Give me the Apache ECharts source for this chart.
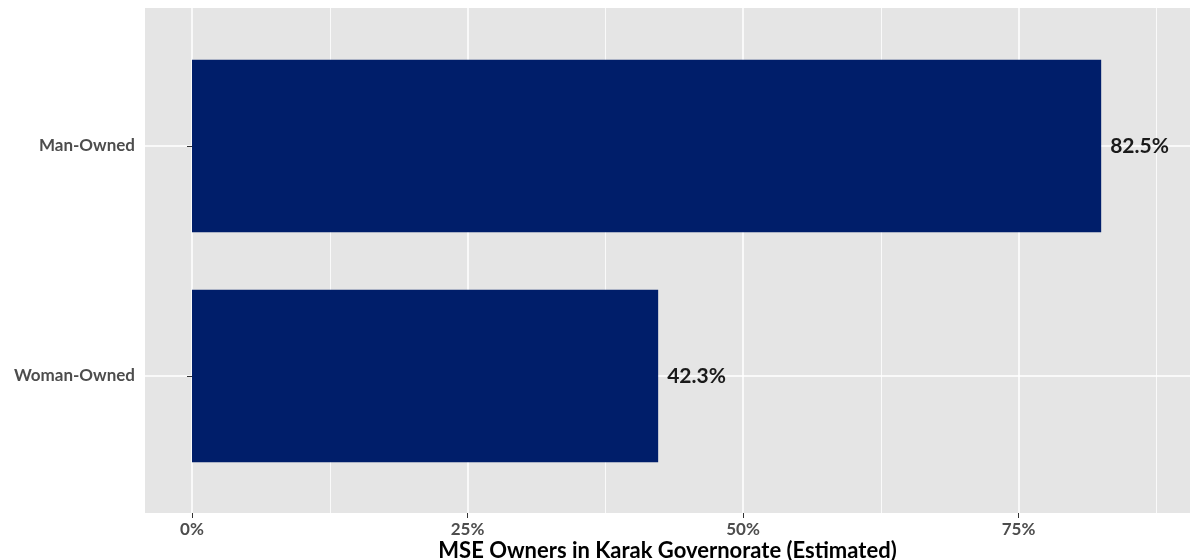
<!DOCTYPE html>
<html>
<head>
<meta charset="utf-8">
<script src="https://cdn.jsdelivr.net/npm/echarts@6/dist/echarts.min.js"></script>
<style>
html,body{margin:0;padding:0;background:#fff;}
#chart{width:1190px;height:560px;}
</style>
</head>
<body>
<div id="chart"></div>
<script>
const categories = ['Man-Owned', 'Woman-Owned'];
const shares = [82.5, 42.3];
const axisTitle = 'MSE Owners in Karak Governorate (Estimated)';
const xMin = 0, xMax = 100, xStep = 25;

const FONT = 'Lato';
const chart = echarts.init(document.getElementById('chart'), null, {renderer: 'canvas'});
chart.setOption({
  animation: false,
  backgroundColor: '#ffffff',
  grid: [
    {left: 145, right: 0, top: 8, bottom: 47, show: true, backgroundColor: '#E5E5E5', borderWidth: 0, outerBoundsMode: 'none', containLabel: false},
    {left: 192, width: 1102, top: 8, bottom: 47, outerBoundsMode: 'none', containLabel: false},
    {left: 145, right: 0, top: 146, bottom: 184, outerBoundsMode: 'none', containLabel: false}
  ],
  xAxis: [
    {
      gridIndex: 0, type: 'value', min: 0, max: 1,
      name: axisTitle, nameLocation: 'middle', nameGap: 27,
      nameTextStyle: {fontFamily: FONT, fontWeight: 'bold', fontSize: 22, color: '#000'},
      axisLine: {show: false}, axisTick: {show: false}, axisLabel: {show: false}, splitLine: {show: false}
    },
    {
      gridIndex: 1, type: 'value', min: xMin, max: xMax, interval: xStep,
      axisLine: {show: false},
      axisTick: {show: true, length: 5, lineStyle: {color: '#333333', width: 1}},
      axisLabel: {formatter: '{value}%', fontFamily: FONT, fontWeight: 'bold', fontSize: 17, color: '#4D4D4D', margin: 8},
      splitLine: {show: true, lineStyle: {color: '#ffffff', width: 1.5}},
      minorTick: {show: false, splitNumber: 2},
      minorSplitLine: {show: true, lineStyle: {color: '#ffffff', width: 0.8}}
    },
    {
      gridIndex: 2, type: 'value', min: -4.265, max: 90.56, show: false
    }
  ],
  yAxis: [
    {gridIndex: 0, type: 'value', show: false},
    {gridIndex: 1, type: 'value', show: false},
    {
      gridIndex: 2, type: 'category', data: categories, inverse: true, boundaryGap: false,
      axisLine: {show: false},
      axisTick: {show: true, length: 5, lineStyle: {color: '#333333', width: 1}},
      axisLabel: {fontFamily: FONT, fontWeight: 'bold', fontSize: 17, color: '#4D4D4D', margin: 10},
      splitLine: {show: true, lineStyle: {color: '#ffffff', width: 1.5}}
    }
  ],
  series: [{
    type: 'bar',
    xAxisIndex: 2, yAxisIndex: 2,
    data: shares,
    barWidth: '75%',
    clip: false,
    itemStyle: {color: '#001E6A'},
    label: {
      show: true, position: 'right', distance: 9,
      formatter: p => p.value.toFixed(1) + '%',
      fontFamily: FONT, fontWeight: 'bold', fontSize: 21, color: '#1A1A1A'
    }
  }]
});
</script>
</body>
</html>
